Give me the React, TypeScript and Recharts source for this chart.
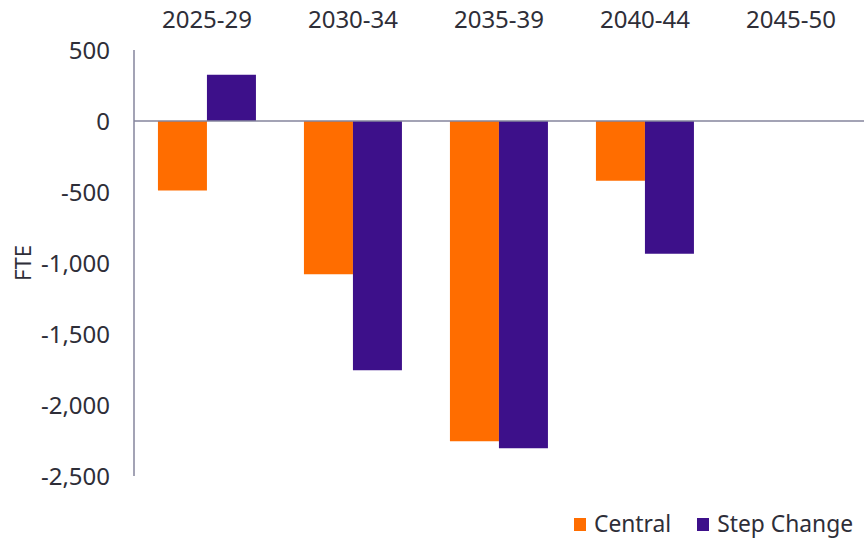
import { BarChart, Bar, XAxis, YAxis, ReferenceLine, Legend } from "recharts"

const categories = ["2025-29", "2030-34", "2035-39", "2040-44", "2045-50"]
const central = [-490, -1080, -2255, -420, 0]
const stepChange = [325, -1755, -2305, -935, 0]
const yTicks = [-2500, -2000, -1500, -1000, -500, 0, 500]

const ORANGE = "#FF6D00"
const PURPLE = "#3D108A"
const TEXT = "#2E2E38"
const AXIS = "#85859c"
const FONT = "'Noto Sans', 'Open Sans', sans-serif"

const data = categories.map((period, i) => ({
  period,
  central: central[i],
  stepChange: stepChange[i],
}))

const series = [
  { key: "central", name: "Central", color: ORANGE },
  { key: "stepChange", name: "Step Change", color: PURPLE },
]

// legend drawn by hand so the squares and spacing match
function LegendRow() {
  return (
    <div
      style={{
        display: "flex",
        alignItems: "center",
        fontFamily: FONT,
        fontSize: 22.8,
        lineHeight: "30px",
        color: TEXT,
        whiteSpace: "nowrap",
        width: 288,
        height: 30,
      }}
    >
      {series.map((s, i) => (
        <div key={s.key} style={{ display: "flex", alignItems: "center", marginLeft: i ? 26 : 0, flexShrink: 0 }}>
          <span style={{ width: 12, height: 13, background: s.color, display: "inline-block", marginRight: 8 }} />
          <span>{s.name}</span>
        </div>
      ))}
    </div>
  )
}

function FteLabel({ viewBox }: any) {
  const cy = viewBox.y + viewBox.height / 2
  return (
    <text
      x={22}
      y={cy}
      transform={`rotate(-90, 22, ${cy})`}
      textAnchor="middle"
      dominantBaseline="central"
      fill={TEXT}
      fontSize={22}
      fontFamily={FONT}
    >
      FTE
    </text>
  )
}

export default function App() {
  return (
    <div style={{ position: "absolute", left: 0, top: 0, width: 864, height: 538, background: "#fff" }}>
      <BarChart
        width={864}
        height={538}
        data={data}
        margin={{ top: 0, right: 0, bottom: 62, left: 0 }}
        barCategoryGap="16.4%"
        barGap={0}
      >
        <XAxis
          dataKey="period"
          orientation="top"
          height={50}
          axisLine={false}
          tickLine={false}
          tickMargin={16}
          interval={0}
          tick={{ fill: TEXT, fontSize: 24, fontFamily: FONT }}
        />
        <YAxis
          width={134}
          domain={[-2500, 500]}
          ticks={yTicks}
          interval={0}
          tickLine={false}
          tickMargin={18}
          axisLine={{ stroke: AXIS, strokeWidth: 1.5 }}
          tick={{ fill: TEXT, fontSize: 24, fontFamily: FONT }}
          tickFormatter={(v: number) => v.toLocaleString("en-US")}
          label={<FteLabel />}
        />
        <ReferenceLine y={0} stroke={AXIS} strokeWidth={1.5} />
        {series.map((s) => (
          <Bar key={s.key} dataKey={s.key} name={s.name} fill={s.color} isAnimationActive={false} />
        ))}
        <Legend
          verticalAlign="middle"
          content={() => <LegendRow />}
          wrapperStyle={{ top: 509, left: 574, width: 288, height: 30 }}
        />
      </BarChart>
    </div>
  )
}
